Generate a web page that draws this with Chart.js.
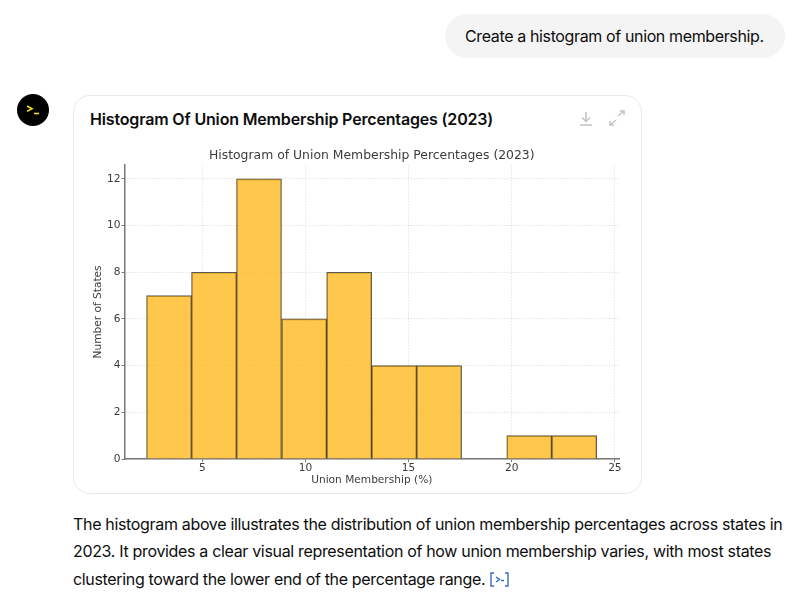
<!DOCTYPE html>
<html><head><meta charset="utf-8">
<style>
html,body{margin:0;padding:0;background:#fff;width:811px;height:602px;overflow:hidden;font-family:Inter,sans-serif;color:#0d0d0d}
.abs{position:absolute;white-space:nowrap}
#bubble{left:445px;top:14px;width:340px;height:44px;border-radius:22px;background:#f4f4f4}
#prompt{left:465px;top:26px;font-size:16px;line-height:20px;letter-spacing:-.37px}
#avatar{left:17px;top:94px;width:32px;height:32px;border-radius:50%;background:#000}
#card{left:73px;top:95px;width:567px;height:397px;border:1px solid #e9e9e9;border-radius:17px;background:#fff}
#cardTitle{left:90px;top:109px;font-size:16px;line-height:20px;font-weight:600;letter-spacing:-.165px}
#wrap{position:absolute;left:80px;top:145px;width:583px;height:347px}
#chart{filter:blur(.3px)}
.line{left:73px;font-size:16px;line-height:20px;letter-spacing:-.33px}
</style></head><body>
<div class="abs" id="bubble"></div><div class="abs" id="prompt">Create a histogram of union membership.</div>
<div class="abs" id="avatar"><svg width="32" height="32" fill="none" stroke="#f2e21c" stroke-width="1.6"><path d="M10 12l5 2.7-5 2.7"/><path d="M17 19.5h5"/></svg></div>
<div class="abs" id="card"></div>
<div class="abs" id="cardTitle">Histogram Of Union Membership Percentages (2023)</div>
<svg class="abs" style="left:578px;top:110px" width="48" height="18" fill="none" stroke="#c4c4c4" stroke-width="1.5">
<path d="M8 2v9M4 7.5l4 4 4-4M2 15h12"/><path d="M40 6l6-5M42 1h4v4M38 10l-6 5M32 11v4h4"/></svg>
<div id="wrap"><canvas id="chart" width="583" height="347" style="width:583px;height:347px"></canvas></div>
<div class="abs line" style="top:514px">The histogram above illustrates the distribution of union membership percentages across states in</div>
<div class="abs line" style="top:541px">2023. It provides a clear visual representation of how union membership varies, with most states</div>
<div class="abs line" style="top:569px">clustering toward the lower end of the percentage range.</div>
<svg class="abs" style="left:489px;top:571px" width="22" height="17" fill="none" stroke="#2f6fc4" stroke-width="1.4">
<path d="M5 2H2v13h3M16 2h3v13h-3M7 6l3.5 2.5L7 11M12 9.5h3"/></svg>
<script src="https://cdn.jsdelivr.net/npm/chart.js@4/dist/chart.umd.js"></script>
<script>
const binCenters = [3.39, 5.57, 7.75, 9.94, 12.12, 14.30, 16.48, 18.66, 20.85, 23.03];
const stateCounts = [7, 8, 12, 6, 8, 4, 4, 0, 1, 1];
const xTicks = [5, 10, 15, 20, 25];
const yTicks = [0, 2, 4, 6, 8, 10, 12];
const chartTitle = 'Histogram of Union Membership Percentages (2023)';
const xTitle = 'Union Membership (%)';
const yTitle = 'Number of States';

const FONT = 'DejaVu Sans';
const TXT = '#3c3c3c';
new Chart(document.getElementById('chart'), {
  type: 'bar',
  data: { datasets: [{
    data: binCenters.map((x, i) => ({ x, y: stateCounts[i] })),
    backgroundColor: 'rgba(255,176,0,0.70)',
    borderColor: 'rgba(30,25,20,0.72)',
    borderWidth: 1,
    barPercentage: 1,
    categoryPercentage: 1,
    grouped: false
  }]},
  options: {
    responsive: false, animation: false, devicePixelRatio: 1,
    layout: { padding: { left: 0, right: 44, top: 0, bottom: 0 } },
    plugins: {
      legend: { display: false }, tooltip: { enabled: false },
      title: { display: true, fullSize: false, text: chartTitle, color: TXT, font: { family: FONT, size: 12.4, weight: 'normal' }, padding: { top: 3, bottom: 2 } }
    },
    scales: {
      x: {
        type: 'linear', min: 1.23, max: 25.2, offset: false,
        afterBuildTicks: s => { s.ticks = xTicks.map(value => ({ value })); },
        afterFit: s => { s.height = 33; },
        ticks: { color: TXT, font: { family: FONT, size: 10.6 }, padding: 0, maxRotation: 0, autoSkip: false },
        title: { display: true, text: xTitle, color: TXT, font: { family: FONT, size: 10.6 }, padding: { top: 0, bottom: 5 } },
        grid: { offset: false, color: 'rgba(0,0,0,0.10)', tickColor: '#777', tickLength: 3, lineWidth: 1 },
        border: { color: '#777', width: 1.5, dash: [1.5, 1.5] }
      },
      y: {
        min: 0, max: 12.6,
        afterBuildTicks: s => { s.ticks = yTicks.map(value => ({ value })); },
        afterFit: s => { s.width = 44.5; },
        ticks: { color: TXT, font: { family: FONT, size: 10.6 }, padding: 1, autoSkip: false },
        title: { display: true, text: yTitle, color: TXT, font: { family: FONT, size: 10.6 }, padding: { top: 12, bottom: 0 } },
        grid: { offset: false, color: 'rgba(0,0,0,0.10)', tickColor: '#777', tickLength: 3, lineWidth: 1 },
        border: { color: '#777', width: 1.5, dash: [1.5, 1.5] }
      }
    }
  }
});
</script>
</body></html>
